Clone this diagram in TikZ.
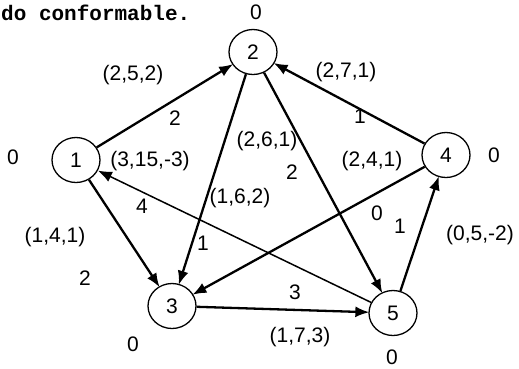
\documentclass[tikz,border=0pt]{standalone}
\usepackage{fontspec}
\setmainfont{Liberation Sans}
\newfontfamily\typefont{Liberation Mono}
\usetikzlibrary{arrows.meta,shapes.geometric}

\begin{document}
\begin{tikzpicture}[x=1pt,y=-1pt,
  netnode/.style={draw,ellipse,line width=1.3pt,minimum width=48pt,minimum height=45pt,
    inner sep=0pt,font=\fontsize{21}{23}\selectfont},
  flowarc/.style={-{Latex[length=14pt,width=11pt]},line width=2.3pt,shorten >=-1pt},
  thinarc/.style={-{Latex[length=14pt,width=11pt]},line width=1.5pt},
  arclabel/.style={inner sep=0pt,font=\fontsize{21}{23}\selectfont}
]
  \useasboundingbox (0,0) rectangle (519,368);
  \node[anchor=west,inner sep=0pt,font=\typefont\bfseries\fontsize{21}{22}\selectfont] (caption) at (1,13) {do conformable.};

  % nodes
  \node[netnode] (n1) at (76,160) {1};
  \node[netnode] (n2) at (253,52) {2};
  \node[netnode] (n3) at (172,306) {3};
  \node[netnode] (n4) at (446,155) {4};
  \node[netnode] (n5) at (393,313) {5};

  % potentials
  \node[arclabel] (p1) at (13,157) {0};
  \node[arclabel] (p2) at (256,12) {0};
  \node[arclabel] (p3) at (133,344) {0};
  \node[arclabel] (p4) at (494,155) {0};
  \node[arclabel] (p5) at (392,357) {0};

  % arcs
  \draw[flowarc] (n1) -- (n2);
  \draw[flowarc] (n2) -- (n3);
  \draw[flowarc] (n2) -- (n5);
  \draw[flowarc] (n4) -- (n2);
  \draw[flowarc] (n4) -- (n3);
  \draw[flowarc] (n1) -- (n3);
  \draw[flowarc] (n3) -- (n5);
  \draw[flowarc] (n5) -- (n4);
  \draw[thinarc] (n5) -- (n1);

  % arc labels
  \node[arclabel] (l12) at (133,75) {(2,5,2)};
  \node[arclabel] (f12) at (175,118) {2};
  \node[arclabel] (l42) at (346,72) {(2,7,1)};
  \node[arclabel] (f42) at (360,116) {1};
  \node[arclabel] (l25) at (267,141) {(2,6,1)};
  \node[arclabel] (f25) at (292,172) {2};
  \node[arclabel] (l51) at (150,161) {(3,15,-3)};
  \node[arclabel] (f51) at (142,206) {4};
  \node[arclabel] (l43) at (372,161) {(2,4,1)};
  \node[arclabel] (l23) at (240,198) {(1,6,2)};
  \node[arclabel] (f23) at (203,243) {1};
  \node[arclabel] (l13) at (55,237) {(1,4,1)};
  \node[arclabel] (f13) at (85,278) {2};
  \node[arclabel] (f35) at (295,292) {3};
  \node[arclabel] (l35) at (300,337) {(1,7,3)};
  \node[arclabel] (f25b) at (377,213) {0};
  \node[arclabel] (f54) at (400,226) {1};
  \node[arclabel] (l54) at (480,235) {(0,5,-2)};
\end{tikzpicture}
\end{document}
